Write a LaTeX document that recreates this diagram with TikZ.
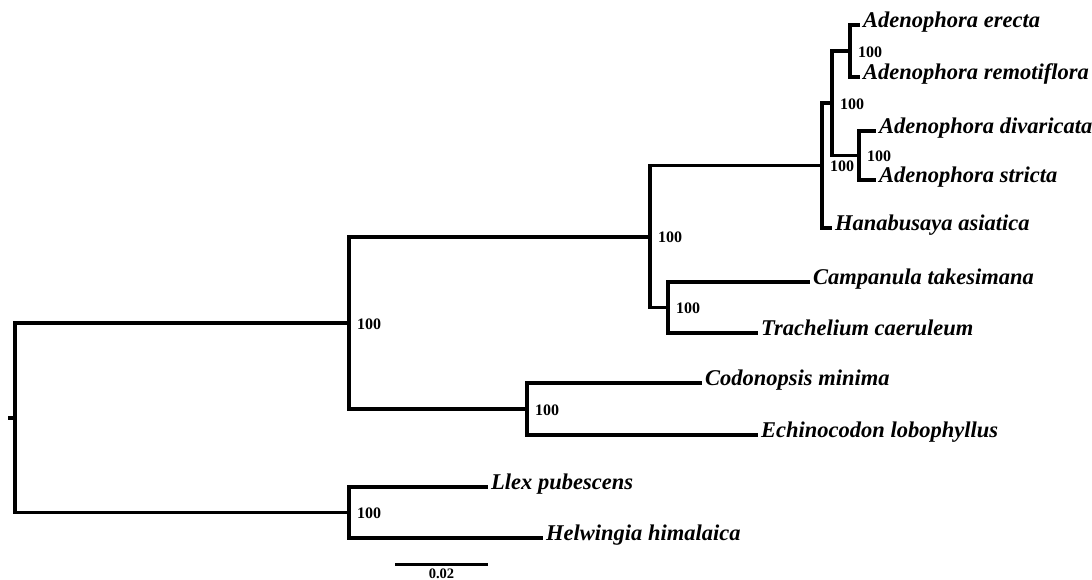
\documentclass[tikz,border=0pt]{standalone}
\usepackage{fontspec}
\setmainfont{Liberation Serif}
\usepackage{tikz}
\usetikzlibrary{calc}

\tikzset{
    branch/.style={line width=3.8pt, line join=miter},
    taxon/.style={anchor=west, inner sep=3pt, text height=0.7em, text depth=0.16em,
        font=\fontsize{22.5}{26}\selectfont\bfseries\itshape},
    boot/.style={anchor=west, inner sep=0pt, xshift=8pt, yshift=-1pt,
        font=\fontsize{16}{18}\selectfont\bfseries},
}

\begin{document}
\begin{tikzpicture}[x=1pt,y=-1pt]

\useasboundingbox (0,0) rectangle (1092,580);

% Internal nodes
\coordinate (root) at (15,417.6);
\coordinate (base) at (8,417.6);
\coordinate (nin) at (349,322.8);
\coordinate (nout) at (349,512.5);
\coordinate (ncamp) at (650,236.6);
\coordinate (nhana) at (822,165.6);
\coordinate (naden) at (832,103.2);
\coordinate (ner) at (850,51);
\coordinate (nds) at (859,155.5);
\coordinate (nct) at (668,307.5);
\coordinate (ncod) at (527,409);

% Taxa
\node[taxon] (erecta) at (860,25) {Adenophora erecta};
\node[taxon] (remoti) at (860,77) {Adenophora remotiflora};
\node[taxon] (divari) at (876,131) {Adenophora divaricata};
\node[taxon] (stricta) at (876,180) {Adenophora stricta};
\node[taxon] (hanab) at (832,228) {Hanabusaya asiatica};
\node[taxon] (campan) at (810,282) {Campanula takesimana};
\node[taxon] (trache) at (758,333) {Trachelium caeruleum};
\node[taxon] (codono) at (702,383) {Codonopsis minima};
\node[taxon] (echino) at (758,435) {Echinocodon lobophyllus};
\node[taxon] (llex) at (488,487) {Llex pubescens};
\node[taxon] (helwin) at (543,538) {Helwingia himalaica};

% Branches
\draw[branch] (base) -- (root);
\draw[branch] (root) |- (nin);
\draw[branch] (root) |- (nout);
\draw[branch] (nin) |- (ncamp);
\draw[branch] (nin) |- (ncod);
\draw[branch] (ncamp) |- (nhana);
\draw[branch] (ncamp) |- (nct);
\draw[branch] (nhana) |- (naden);
\draw[branch] (nhana) |- (hanab.west);
\draw[branch] (naden) |- (ner);
\draw[branch] (naden) |- (nds);
\draw[branch] (ner) |- (erecta.west);
\draw[branch] (ner) |- (remoti.west);
\draw[branch] (nds) |- (divari.west);
\draw[branch] (nds) |- (stricta.west);
\draw[branch] (nct) |- (campan.west);
\draw[branch] (nct) |- (trache.west);
\draw[branch] (ncod) |- (codono.west);
\draw[branch] (ncod) |- (echino.west);
\draw[branch] (nout) |- (llex.west);
\draw[branch] (nout) |- (helwin.west);

% Bootstrap values
\node[boot] (b1) at (nin) {100};
\node[boot] (b2) at (nout) {100};
\node[boot] (b3) at (ncamp) {100};
\node[boot] (b4) at (nhana) {100};
\node[boot] (b5) at (naden) {100};
\node[boot] (b6) at (ner) {100};
\node[boot] (b7) at (nds) {100};
\node[boot] (b8) at (nct) {100};
\node[boot] (b9) at (ncod) {100};

% Scale bar
\coordinate (sbl) at (395,564);
\coordinate (sbr) at (488,564);
\draw[line width=3pt] (sbl) -- (sbr);
\node[font=\fontsize{14.5}{17}\selectfont\bfseries, inner sep=0pt, anchor=base] (sbtext) at ($(sbl)!0.5!(sbr)+(0,14.5)$) {0.02};

\end{tikzpicture}
\end{document}
